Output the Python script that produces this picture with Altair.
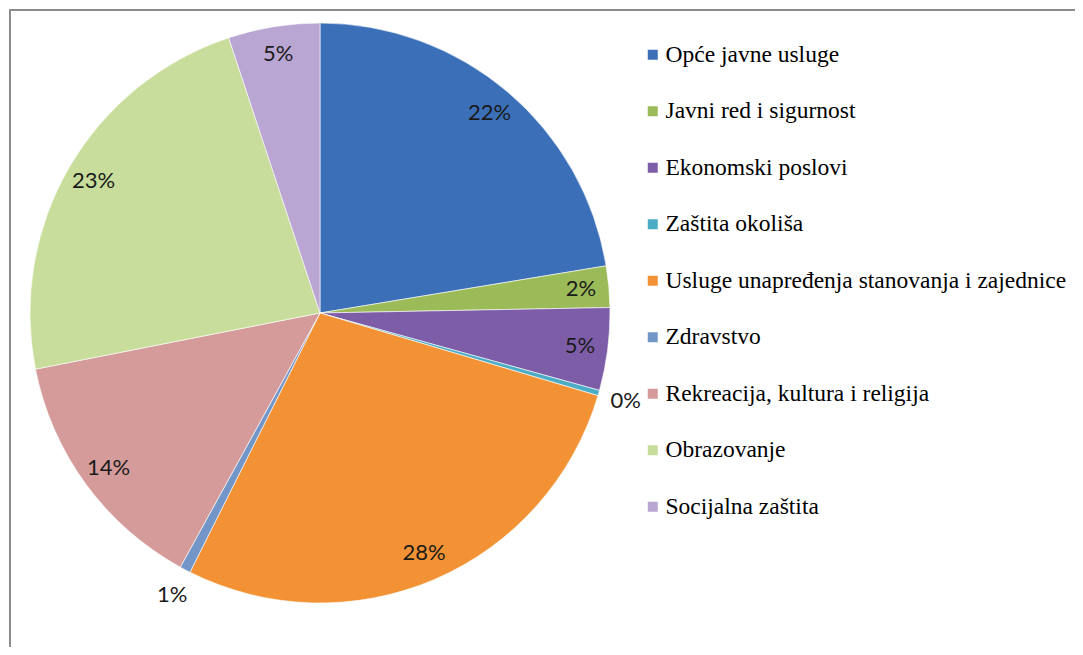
import altair as alt
import pandas as pd

categories = [
    "Opće javne usluge",
    "Javni red i sigurnost",
    "Ekonomski poslovi",
    "Zaštita okoliša",
    "Usluge unapređenja stanovanja i zajednice",
    "Zdravstvo",
    "Rekreacija, kultura i religija",
    "Obrazovanje",
    "Socijalna zaštita",
]
values = [22.4, 2.3, 4.6, 0.3, 27.8, 0.6, 13.9, 23.0, 5.1]
colors = [
    "#3b70b9", "#9bbb59", "#7e5da8", "#4bacc6", "#f39234",
    "#7396c8", "#d59b9a", "#c8dd9b", "#b9a6d3",
]

df = pd.DataFrame({
    "kategorija": categories,
    "vrijednost": values,
    "idx": list(range(len(categories))),
})

CX, CY, R = 312, 305, 290
SERIF = "Liberation Serif"

base = alt.Chart(df).encode(
    theta=alt.Theta("vrijednost:Q", stack=True),
    order=alt.Order("idx:Q"),
)

pie = base.mark_arc(outerRadius=R, stroke="#ffffff", strokeWidth=0.6).encode(
    x=alt.value(CX),
    y=alt.value(CY),
    color=alt.Color(
        "kategorija:N",
        scale=alt.Scale(domain=categories, range=colors),
        sort=categories,
        legend=alt.Legend(
            title=None,
            orient="none",
            legendX=633,
            legendY=35,
            symbolType="square",
            symbolSize=100,
            symbolStrokeWidth=0,
            labelFont=SERIF,
            labelFontSize=23.5,
            labelColor="#000000",
            labelOffset=1,
            rowPadding=31.5,
            labelLimit=600,
        ),
    ),
)

inside = base.transform_calculate(
    lab="datum.vrijednost >= 1 ? round(datum.vrijednost) + '%' : ''",
).mark_text(font="Lato", fontSize=22, color="#1a1a1a", radius=262).encode(
    x=alt.value(CX),
    y=alt.value(CY),
    text="lab:N",
)

outside = base.transform_calculate(
    lab="datum.vrijednost < 1 ? round(datum.vrijednost) + '%' : ''",
).mark_text(font="Lato", fontSize=22, color="#1a1a1a", radius=318).encode(
    x=alt.value(CX),
    y=alt.value(CY),
    text="lab:N",
)

frame = pd.DataFrame({"a": [0]})
top_line = alt.Chart(frame).mark_rule(color="#8c8c8c", strokeWidth=2).encode(
    x=alt.value(1), x2=alt.value(1067), y=alt.value(2)
)
left_line = alt.Chart(frame).mark_rule(color="#8c8c8c", strokeWidth=2).encode(
    x=alt.value(2), y=alt.value(1), y2=alt.value(639)
)

chart = alt.layer(pie, inside, outside, top_line, left_line).properties(
    width=1067,
    height=639,
    autosize=alt.AutoSizeParams(type="none"),
    padding=0,
).configure_view(stroke=None)

chart.save("out.html", embed_options={"renderer": "svg", "actions": False})
